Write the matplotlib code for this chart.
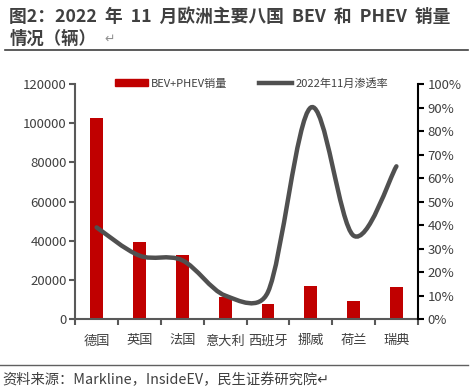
import numpy as np
import matplotlib
matplotlib.use("Agg")
import matplotlib.pyplot as plt
from matplotlib.path import Path
from matplotlib.patches import PathPatch, Patch
from matplotlib.lines import Line2D

plt.rcParams['font.family'] = ['Noto Sans CJK SC', 'DejaVu Sans']

## 데이터
countries = ['德国', '英国', '法国', '意大利', '西班牙', '挪威', '荷兰', '瑞典']
sales = [102500, 39500, 32500, 11200, 7700, 16900, 9200, 16500]
share = [0.39, 0.27, 0.25, 0.10, 0.115, 0.90, 0.355, 0.65]

left_ticks = [0, 20000, 40000, 60000, 80000, 100000, 120000]
right_ticks = [i / 10 for i in range(11)]

red = '#C00000'
gray = '#505050'
txt = '#404040'

fig = plt.figure(figsize=(4.7, 3.91), dpi=100)
ax = fig.add_axes([0.16, 0.184, 0.729, 0.601])

x = np.arange(len(countries))
ax.bar(x, sales, width=0.3, color=red, zorder=2)
ax.set_xlim(-0.5, len(countries) - 0.5)
ax.set_ylim(0, 120000)
ax.set_yticks(left_ticks)
ax.set_yticklabels([str(v) for v in left_ticks], fontsize=9.5, color=txt)
ax.set_xticks(x)
ax.set_xticklabels(countries, fontsize=9.5, color=txt)
ax.set_xticks(np.arange(-0.5, len(countries)), minor=True)
ax.tick_params(axis='x', which='major', length=0, pad=11)
ax.tick_params(axis='x', which='minor', length=4, width=1.5, color='#595959', direction='out')
ax.tick_params(axis='y', length=4, width=1.5, color='#595959', pad=2)
for s in ['top', 'right']:
    ax.spines[s].set_visible(False)
ax.spines['left'].set_color('#595959')
ax.spines['left'].set_linewidth(1.5)
ax.spines['bottom'].set_color('#595959')
ax.spines['bottom'].set_linewidth(1.5)

ax2 = ax.twinx()
ax2.set_ylim(0, 1)
ax2.set_yticks(right_ticks)
ax2.set_yticklabels([f'{int(round(v * 100))}%' for v in right_ticks], fontsize=9.5, color=txt)
for s in ['top', 'left', 'bottom']:
    ax2.spines[s].set_visible(False)
ax2.spines['right'].set_color('black')
ax2.spines['right'].set_linewidth(1.5)
ax2.tick_params(axis='y', length=4, width=1.5, color='black', pad=3)

# 엑셀식 부드러운 선: 화면 좌표에서 베지어, 제어점 길이는 구간 길이의 절반까지
trans = ax2.transData
pts = trans.transform(np.column_stack([x, share]))
n = len(pts)


def ctrl(vec, seg):
    d = np.hypot(*vec)
    if d > seg / 2:
        vec = vec * (seg / 2) / d
    return vec


verts = [pts[0]]
codes = [Path.MOVETO]
for i in range(n - 1):
    p0 = pts[i - 1] if i > 0 else pts[i]
    p1 = pts[i]
    p2 = pts[i + 1]
    p3 = pts[i + 2] if i + 2 < n else pts[i + 1]
    seg = np.hypot(*(p2 - p1))
    c1 = p1 + ctrl((p2 - p0) / 6, seg)
    c2 = p2 - ctrl((p3 - p1) / 6, seg)
    verts += [c1, c2, p2]
    codes += [Path.CURVE4] * 3
verts = trans.inverted().transform(np.array(verts))
ax2.add_patch(PathPatch(Path(verts, codes), facecolor='none', edgecolor=gray,
                        lw=3.2, capstyle='round', zorder=3))

# 범례
handles = [Patch(color=red), Line2D([], [], color=gray, lw=3.2)]
fig.legend(handles, ['BEV+PHEV销量', '2022年11月渗透率'], loc='center',
           bbox_to_anchor=(0.535, 0.787), ncol=2, frameon=False, fontsize=8,
           handlelength=3.0, handleheight=0.6, columnspacing=2.8, handletextpad=0.3,
           labelcolor=txt)

# 제목
fig.text(0.02, 0.956, '图2：2022  年  11  月欧洲主要八国  BEV  和  PHEV  销量', fontsize=12.8,
         fontweight='bold', color=txt, va='center', ha='left')
fig.text(0.02, 0.901, '情况（辆）', fontsize=12.5, fontweight='bold', color=txt,
         va='center', ha='left')
fig.text(0.222, 0.901, '↵', fontsize=9, color='#909090', va='center', ha='left')
fig.add_artist(Line2D([0.01, 0.995], [0.873, 0.873], color='#404040', lw=1.2))
fig.add_artist(Line2D([0.0, 0.995], [0.067, 0.067], color='#606060', lw=1))
fig.text(0.005, 0.028, '资料来源：Markline，InsideEV，民生证券研究院↵', fontsize=10.3,
         color=txt, va='center', ha='left')

plt.savefig('out.png', dpi=100)
